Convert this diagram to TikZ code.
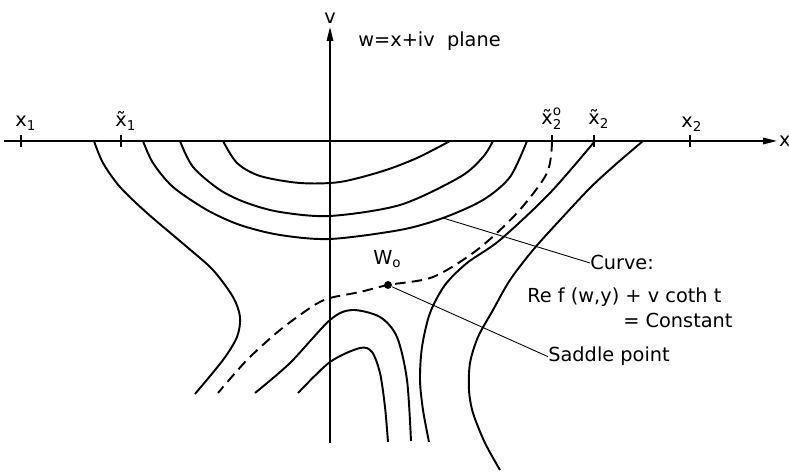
\documentclass[tikz,border=0pt]{standalone}
\usepackage{fontspec}
\setmainfont{DejaVu Sans}
\usepackage{amsmath}
\usetikzlibrary{arrows.meta,positioning}
\tikzset{
  axisarr/.style={-{Triangle[length=0.28cm,width=0.13cm]},line width=0.9pt},
  ctr/.style={line width=1.1pt,line join=round},
  dctr/.style={ctr,dash pattern=on 6pt off 3.5pt},
  leader/.style={line width=0.5pt},
  tickmark/.style={line width=0.8pt},
  lbl/.style={font=\fontsize{11}{13}\selectfont,inner sep=0pt},
  sdot/.style={circle,fill,inner sep=0pt,minimum size=4.5pt},
}

\begin{document}
\begin{tikzpicture}[x=0.02cm,y=-0.02cm]
  \useasboundingbox (0,0) rectangle (789,475);

  % axes
  \coordinate (xl) at (4,141);
  \coordinate (xr) at (777,141);
  \coordinate (vb) at (330,443);
  \coordinate (vt) at (330,27);
  \draw[axisarr] (xl) -- (xr);
  \draw[axisarr] (vb) -- (vt);
  \node[lbl,right=1pt of xr] (xlab) {x};
  \node[lbl,above=2pt of vt] (vlab) {v};
  \node[lbl,anchor=base west] (plane) at (358,47) {w=x+iv\ \ plane};

  % ticks on the x axis
  \foreach \tx in {21,121,552,594,690}
    \draw[tickmark] (\tx,135) -- (\tx,147);
  \node[lbl,anchor=base west] (x1)   at (15,127)  {x$_{\text{1}}$};
  \node[lbl,anchor=base west] (xt1)  at (115,127) {\~x$_{\text{1}}$};
  \node[lbl,anchor=base west] (xt20) at (541,125) {$\text{\~x}_{\text{2}}^{\text{o}}$};
  \node[lbl,anchor=base west] (xt2)  at (588,125) {\~x$_{\text{2}}$};
  \node[lbl,anchor=base west] (x2)   at (681,128) {x$_{\text{2}}$};

  % closed level curves round the upper half
  \draw[ctr] plot[smooth] coordinates {(223,141) (237,163) (260,176) (300,183) (340,182) (383,171) (417,158) (450,141)};
  \draw[ctr] plot[smooth] coordinates {(180,141) (193,167) (220,190) (247,203) (280,212) (330,216) (400,205) (460,177) (483,157) (493,141)};
  \draw[ctr] plot[smooth] coordinates {(143,141) (153,163) (173,187) (207,210) (240,225) (280,235) (330,239) (400,230) (443,218) (483,200) (510,177) (527,141)};

  % outer branches
  \draw[ctr] plot[smooth] coordinates {(94,141) (103,163) (120,187) (147,213) (187,247) (213,270) (233,297) (240,317) (237,337) (223,360) (195,394)};
  \draw[ctr] plot[smooth] coordinates {(595,141) (550,193) (500,240) (467,263) (445,285) (430,313) (422,347) (420,380) (423,410) (429,442)};
  \draw[ctr] plot[smooth] coordinates {(643,141) (615,165) (590,188) (560,220) (533,250) (510,280) (493,310) (478,337) (470,363) (469,390) (473,413) (485,443) (500,470)};

  % lower curves
  \draw[ctr] plot[smooth] coordinates {(255,393) (290,363) (330,320) (352,310) (380,317) (397,337) (407,380) (411,441)};
  \draw[ctr] plot[smooth] coordinates {(298,393) (330,362) (360,348) (372,352) (380,373) (385,407) (388,442)};

  % path through the saddle point
  \coordinate (w0) at (388,285);
  \draw[dctr] plot[smooth] coordinates {(552,141) (547,173) (517,213) (477,250) (433,277) (388,285) (360,292) (330,298) (313,306) (280,330) (247,360) (218,393)};
  \node[sdot] (sp) at (w0) {};
  \node[lbl,anchor=base west] (w0lab) at (373,265) {W$_{\text{o}}$};

  % labels with leaders
  \coordinate (onc) at (443,218);
  \node[lbl,anchor=base west] (crv)  at (590,270) {Curve:};
  \node[lbl,anchor=base west] (eq1)  at (527,303) {Re f (w,y) + v coth t};
  \node[lbl,anchor=base west] (eq2)  at (623,328) {= Constant};
  \node[lbl,anchor=base west] (sdl)  at (548,362) {Saddle point};
  \draw[leader] (onc) -- (crv.west);
  \draw[leader] (sp) -- (sdl.west);
\end{tikzpicture}
\end{document}
